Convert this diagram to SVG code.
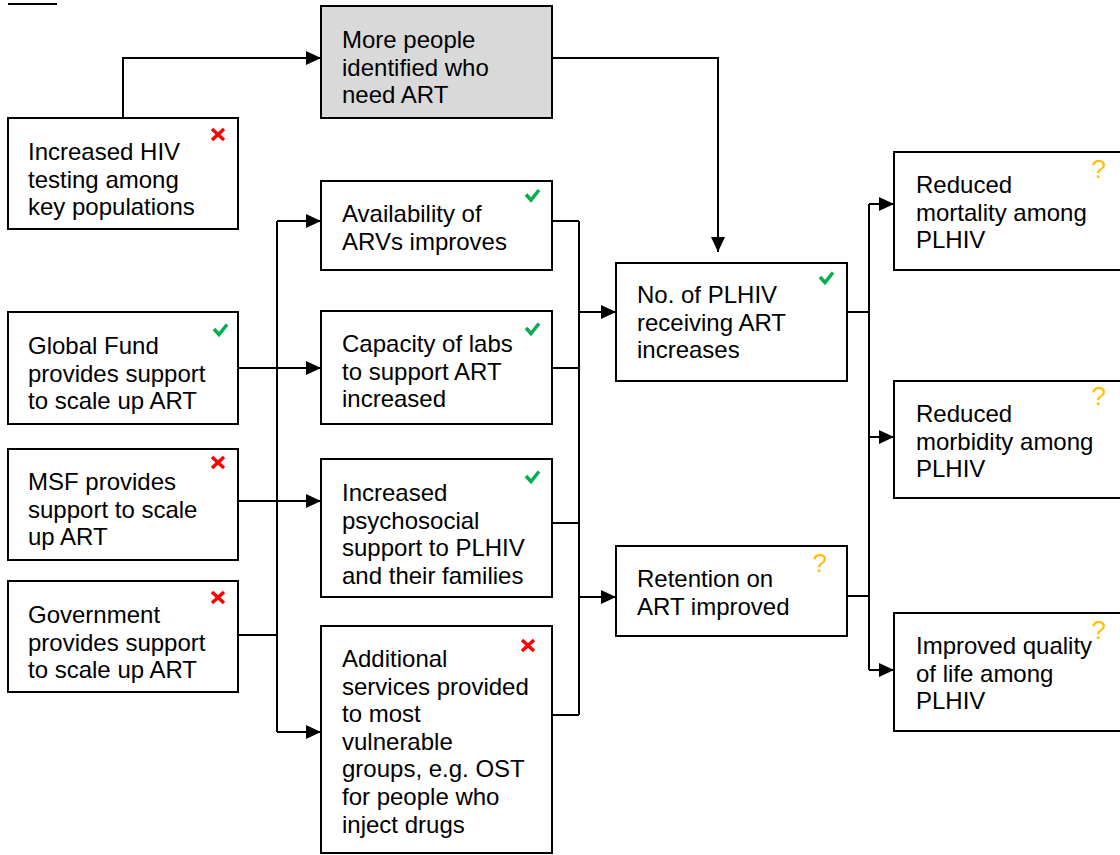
<svg xmlns="http://www.w3.org/2000/svg" width="1120" height="855" viewBox="0 0 1120 855">
<defs>
<marker id="arr" markerUnits="userSpaceOnUse" markerWidth="16" markerHeight="14" refX="15" refY="7" orient="auto">
<path d="M0,0 L15,7 L0,14 z" fill="#000"/>
</marker>
<style>
.box{fill:#fff;stroke:#000;stroke-width:2}
.grey{fill:#d9d9d9;stroke:#000;stroke-width:2}
.t{font-family:"Liberation Sans",Arial,sans-serif;font-size:24px;fill:#000}
.c{fill:none;stroke:#000;stroke-width:2}
.a{fill:none;stroke:#000;stroke-width:2;marker-end:url(#arr)}
.ok{fill:none;stroke:#00b050;stroke-width:3.5;stroke-linecap:butt;stroke-linejoin:miter}
.no{fill:none;stroke:#ff0000;stroke-width:3.5}
.q{font-family:"Liberation Sans",Arial,sans-serif;font-size:26px;fill:#ffc000}
</style>
</defs>
<rect x="0" y="0" width="1120" height="855" fill="#fff"/>
<line x1="8" y1="4" x2="57" y2="4" stroke="#000" stroke-width="2"/>

<g id="connectors">
<path class="a" d="M123,118 V58 H321"/>
<path class="a" d="M552,58 H718 V252"/>
<path class="a" d="M238,368 H321"/>
<path class="a" d="M238,501 H321"/>
<path class="c" d="M238,635 H277"/>
<path class="c" d="M277,221 V732"/>
<path class="a" d="M277,221 H321"/>
<path class="a" d="M277,732 H321"/>
<path class="c" d="M552,221 H579 M552,368 H579 M552,523 H579 M552,715 H579 M579,221 V715"/>
<path class="a" d="M579,312 H616"/>
<path class="a" d="M579,597 H616"/>
<path class="c" d="M847,312 H869 M847,596 H869 M869,204 V670"/>
<path class="a" d="M869,204 H894"/>
<path class="a" d="M869,437 H894"/>
<path class="a" d="M869,670 H894"/>
</g>

<g id="n-testing">
<rect class="box" x="8" y="118" width="230" height="111"/>
<path class="no" d="M212,129 L224,140 M224,129 L212,140"/>
<text class="t" x="28" y="160">Increased HIV</text>
<text class="t" x="28" y="187.6">testing among</text>
<text class="t" x="28" y="215.2">key populations</text>
</g>

<g id="n-identified">
<rect class="grey" x="321" y="6" width="231" height="112"/>
<text class="t" x="342" y="48">More people</text>
<text class="t" x="342" y="75.6">identified who</text>
<text class="t" x="342" y="103.2">need ART</text>
</g>

<g id="n-arvs">
<rect class="box" x="321" y="181" width="231" height="89"/>
<path class="ok" d="M526,194.5 L531,200 L539,190"/>
<text class="t" x="342" y="222">Availability of</text>
<text class="t" x="342" y="249.6">ARVs improves</text>
</g>

<g id="n-labs">
<rect class="box" x="321" y="311" width="231" height="113"/>
<path class="ok" d="M526,328 L531,333.5 L539,323.5"/>
<text class="t" x="342" y="352">Capacity of labs</text>
<text class="t" x="342" y="379.6">to support ART</text>
<text class="t" x="342" y="407.2">increased</text>
</g>

<g id="n-psychosocial">
<rect class="box" x="321" y="459" width="231" height="138"/>
<path class="ok" d="M526,476 L531,481.5 L539,471.5"/>
<text class="t" x="342" y="501">Increased</text>
<text class="t" x="342" y="528.6">psychosocial</text>
<text class="t" x="342" y="556.2">support to PLHIV</text>
<text class="t" x="342" y="583.8">and their families</text>
</g>

<g id="n-additional">
<rect class="box" x="321" y="626" width="231" height="227"/>
<path class="no" d="M522,640 L534,651 M534,640 L522,651"/>
<text class="t" x="342" y="667">Additional</text>
<text class="t" x="342" y="694.6">services provided</text>
<text class="t" x="342" y="722.2">to most</text>
<text class="t" x="342" y="749.8">vulnerable</text>
<text class="t" x="342" y="777.4">groups, e.g. OST</text>
<text class="t" x="342" y="805">for people who</text>
<text class="t" x="342" y="832.6">inject drugs</text>
</g>

<g id="n-globalfund">
<rect class="box" x="8" y="312" width="230" height="112"/>
<path class="ok" d="M214,329 L219,334.5 L227,324.5"/>
<text class="t" x="28" y="354">Global Fund</text>
<text class="t" x="28" y="381.6">provides support</text>
<text class="t" x="28" y="409.2">to scale up ART</text>
</g>

<g id="n-msf">
<rect class="box" x="8" y="449" width="230" height="111"/>
<path class="no" d="M212,457 L224,468 M224,457 L212,468"/>
<text class="t" x="28" y="490">MSF provides</text>
<text class="t" x="28" y="517.6">support to scale</text>
<text class="t" x="28" y="545.2">up ART</text>
</g>

<g id="n-government">
<rect class="box" x="8" y="581" width="230" height="111"/>
<path class="no" d="M212,592 L224,603 M224,592 L212,603"/>
<text class="t" x="28" y="623">Government</text>
<text class="t" x="28" y="650.6">provides support</text>
<text class="t" x="28" y="678.2">to scale up ART</text>
</g>

<g id="n-receiving">
<rect class="box" x="616" y="263" width="231" height="118"/>
<path class="ok" d="M820,277 L825,282.5 L833,272.5"/>
<text class="t" x="637" y="303">No. of PLHIV</text>
<text class="t" x="637" y="330.6">receiving ART</text>
<text class="t" x="637" y="358.2">increases</text>
</g>

<g id="n-retention">
<rect class="box" x="616" y="546" width="231" height="90"/>
<text class="q" x="812.5" y="572">?</text>
<text class="t" x="637" y="587">Retention on</text>
<text class="t" x="637" y="614.6">ART improved</text>
</g>

<g id="n-mortality">
<rect class="box" x="894" y="152" width="231" height="118"/>
<text class="q" x="1091.5" y="178">?</text>
<text class="t" x="916" y="193">Reduced</text>
<text class="t" x="916" y="220.6">mortality among</text>
<text class="t" x="916" y="248.2">PLHIV</text>
</g>

<g id="n-morbidity">
<rect class="box" x="894" y="381" width="231" height="117"/>
<text class="q" x="1091.5" y="405">?</text>
<text class="t" x="916" y="422">Reduced</text>
<text class="t" x="916" y="449.6">morbidity among</text>
<text class="t" x="916" y="477.2">PLHIV</text>
</g>

<g id="n-quality">
<rect class="box" x="894" y="613" width="231" height="118"/>
<text class="q" x="1091.5" y="639">?</text>
<text class="t" x="916" y="654">Improved quality</text>
<text class="t" x="916" y="681.6">of life among</text>
<text class="t" x="916" y="709.2">PLHIV</text>
</g>
</svg>
